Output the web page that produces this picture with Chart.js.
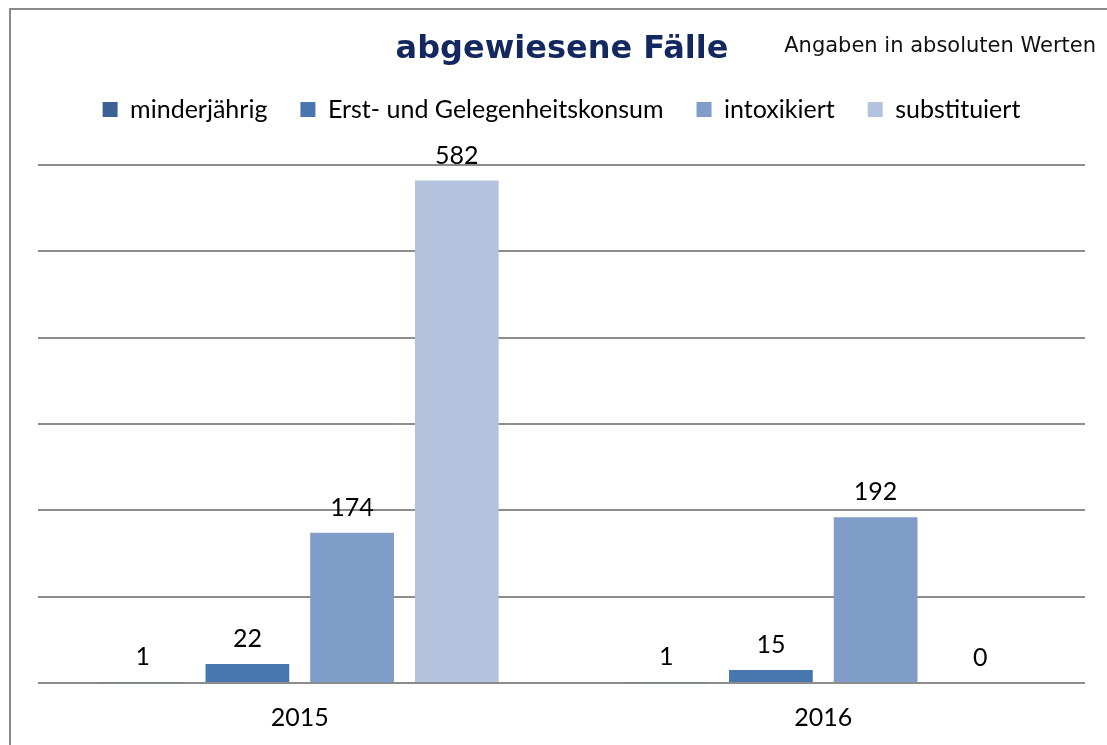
<!DOCTYPE html>
<html>
<head>
<meta charset="utf-8">
<script src="https://cdn.jsdelivr.net/npm/chart.js@4"></script>
<style>
  html, body { margin: 0; padding: 0; background: #fff; overflow: hidden; }
  #wrap { position: relative; width: 1107px; height: 745px; }
  #frame { position: absolute; left: 9px; top: 8px; width: 1110px; height: 760px;
           border: 2px solid #8a8a8a; box-sizing: border-box; pointer-events: none; }
</style>
</head>
<body>
<div id="wrap">
  <canvas id="chart" width="1107" height="745"></canvas>
  <div id="frame"></div>
</div>
<script>
// Chart data
const YEARS = ['2015', '2016'];
const SERIES_NAMES = ['minderjährig', 'Erst- und Gelegenheitskonsum', 'intoxikiert', 'substituiert'];
const MINDERJAEHRIG = [1, 1];
const ERST_GELEGENHEIT = [22, 15];
const INTOXIKIERT = [174, 192];
const SUBSTITUIERT = [582, 0];

const TITLE = 'abgewiesene Fälle';
const NOTE = 'Angaben in absoluten Werten';

const SERIES_COLORS = ['#3D6196', '#4877B0', '#7F9DC8', '#B3C3DE'];
const LABEL_FONT = 'Lato, "Open Sans", sans-serif';
const VERDANA_LIKE = '"DejaVu Sans", Verdana, sans-serif';

// Title and note, drawn in the space above the legend
const headerText = {
    id: 'headerText',
    afterDraw(chart) {
        const ctx = chart.ctx;
        ctx.save();
        ctx.textBaseline = 'alphabetic';
        ctx.fillStyle = '#12285F';
        ctx.textAlign = 'center';
        ctx.font = 'bold 32px ' + VERDANA_LIKE;
        ctx.fillText(TITLE, 562, 58);
        ctx.fillStyle = '#111';
        ctx.textAlign = 'right';
        ctx.font = '21px ' + VERDANA_LIKE;
        ctx.fillText(NOTE, 1096, 52);
        ctx.restore();
    }
};

// Extra room between legend and plot area
const legendSpacer = {
    id: 'legendSpacer',
    beforeInit(chart) {
        const fit = chart.legend.fit;
        chart.legend.fit = function () {
            fit.call(this);
            this.height += 33;
        };
    }
};

// Draws the value above each bar
const valueLabels = {
    id: 'valueLabels',
    afterDatasetsDraw(chart) {
        const ctx = chart.ctx;
        ctx.save();
        ctx.font = '25px ' + LABEL_FONT;
        ctx.fillStyle = '#000';
        ctx.textAlign = 'center';
        ctx.textBaseline = 'alphabetic';
        chart.data.datasets.forEach((ds, i) => {
            chart.getDatasetMeta(i).data.forEach((bar, j) => {
                ctx.fillText(String(ds.data[j]), bar.x, bar.y - 17);
            });
        });
        ctx.restore();
    }
};

const seriesValues = [MINDERJAEHRIG, ERST_GELEGENHEIT, INTOXIKIERT, SUBSTITUIERT];

new Chart(document.getElementById('chart').getContext('2d'), {
    type: 'bar',
    data: {
        labels: YEARS,
        datasets: SERIES_NAMES.map((name, i) => ({
            label: name,
            data: seriesValues[i],
            backgroundColor: SERIES_COLORS[i],
            borderWidth: 0,
            categoryPercentage: 0.8,
            barPercentage: 0.8
        }))
    },
    options: {
        responsive: false,
        animation: false,
        layout: { padding: { left: 38, right: 22, top: 64, bottom: 0 } },
        plugins: {
            legend: {
                position: 'top',
                labels: {
                    color: '#000',
                    font: { family: LABEL_FONT, size: 25 },
                    boxWidth: 15,
                    boxHeight: 15,
                    padding: 33
                }
            },
            tooltip: { enabled: false }
        },
        scales: {
            x: {
                grid: { display: false },
                border: { display: false },
                ticks: { color: '#000', font: { family: LABEL_FONT, size: 25 }, padding: 12 }
            },
            y: {
                min: 0,
                max: 600,
                ticks: { display: false, stepSize: 100 },
                border: { display: false },
                grid: { color: '#8c8c8c', lineWidth: 2, drawTicks: false }
            }
        }
    },
    plugins: [legendSpacer, valueLabels, headerText]
});
</script>
</body>
</html>
